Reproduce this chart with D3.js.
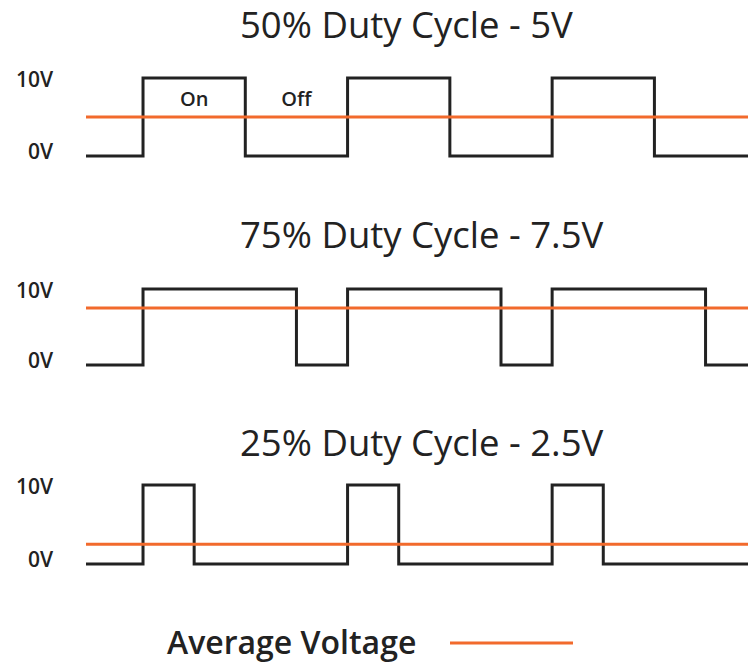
<!DOCTYPE html>
<html>
<head>
<meta charset="utf-8">
<script src="https://cdn.jsdelivr.net/npm/d3@7"></script>
<style>
  html, body { margin: 0; padding: 0; background: #ffffff; }
  svg { display: block; }
  text { font-family: "Open Sans", "Noto Sans", sans-serif; fill: #222; }
</style>
</head>
<body>
<svg id="chart" width="748" height="664"></svg>
<script>
// ---- data ----
const titles = ["50% Duty Cycle - 5V", "75% Duty Cycle - 7.5V", "25% Duty Cycle - 2.5V"];
const dutyCycles = [50, 75, 25];
const averageVoltages = [5, 7.5, 2.5];
const riseTimes = [0, 4, 8];                 // in quarter-periods
const fallTimes50 = [2, 6, 10];
const fallTimes75 = [3, 7, 11];
const fallTimes25 = [1, 5, 9];
const fallTimes = [fallTimes50, fallTimes75, fallTimes25];
const timeDomain = [-1.115, 11.83];
const voltageTicks = [0, 10];
const tickLabels = ["0V", "10V"];
const segmentLabels = ["On", "Off"];
const legendLabel = "Average Voltage";

// ---- layout ----
const svg = d3.select("#chart");
const x = d3.scaleLinear().domain(timeDomain).range([86, 748]);
const panelLayout = [
  { titleY: 38, y0: 156, y10: 78 },
  { titleY: 248, y0: 365, y10: 289 },
  { titleY: 456, y0: 564, y10: 485 }
];
const black = "#222222", orange = "#f26a2c";

function wavePoints(rises, falls) {
  const pts = [[timeDomain[0], 0]];
  rises.forEach((r, i) => {
    pts.push([r, 0], [r, 10], [falls[i], 10], [falls[i], 0]);
  });
  pts.push([timeDomain[1], 0]);
  return pts;
}

titles.forEach((title, i) => {
  const L = panelLayout[i];
  const y = d3.scaleLinear().domain([0, 10]).range([L.y0, L.y10]);
  const g = svg.append("g");

  g.append("text")
    .attr("x", 240).attr("y", L.titleY)
    .attr("text-anchor", "start")
    .style("font-size", "36.5px")
    .style("font-weight", 400)
    .text(title);

  // y axis labels
  const axis = d3.axisLeft(y).tickValues(voltageTicks)
    .tickFormat((d, k) => tickLabels[k]).tickSize(0).tickPadding(0);
  const ax = g.append("g").attr("transform", "translate(53,0)").call(axis);
  ax.select(".domain").remove();
  ax.selectAll("text")
    .style("font-family", "'Open Sans', sans-serif")
    .style("font-size", "21px")
    .style("font-weight", 600)
    .attr("fill", "#222")
    .attr("dy", (d) => d === 10 ? "0.42em" : "0.1em");

  // waveform
  const line = d3.line().x(d => x(d[0])).y(d => y(d[1])).curve(d3.curveLinear);
  g.append("path")
    .datum(wavePoints(riseTimes, fallTimes[i]))
    .attr("d", line)
    .attr("fill", "none")
    .attr("stroke", black)
    .attr("stroke-width", 3)
    .attr("stroke-linejoin", "miter");

  // average voltage
  g.append("path")
    .datum([[timeDomain[0], averageVoltages[i]], [timeDomain[1], averageVoltages[i]]])
    .attr("d", line)
    .attr("fill", "none")
    .attr("stroke", orange)
    .attr("stroke-width", 3);

  if (i === 0) {
    const mids = [(riseTimes[0] + fallTimes50[0]) / 2, (fallTimes50[0] + riseTimes[1]) / 2];
    segmentLabels.forEach((lab, k) => {
      g.append("text")
        .attr("x", x(mids[k])).attr("y", y(6.4))
        .attr("text-anchor", "middle")
        .style("font-size", "20px")
        .style("font-weight", 600)
        .text(lab);
    });
  }
});

// legend
svg.append("text")
  .attr("x", 167).attr("y", 654)
  .style("font-size", "32px")
  .style("font-weight", 600)
  .text(legendLabel);
svg.append("line")
  .attr("x1", 450).attr("x2", 573)
  .attr("y1", 643).attr("y2", 643)
  .attr("stroke", orange)
  .attr("stroke-width", 3);
</script>
</body>
</html>
